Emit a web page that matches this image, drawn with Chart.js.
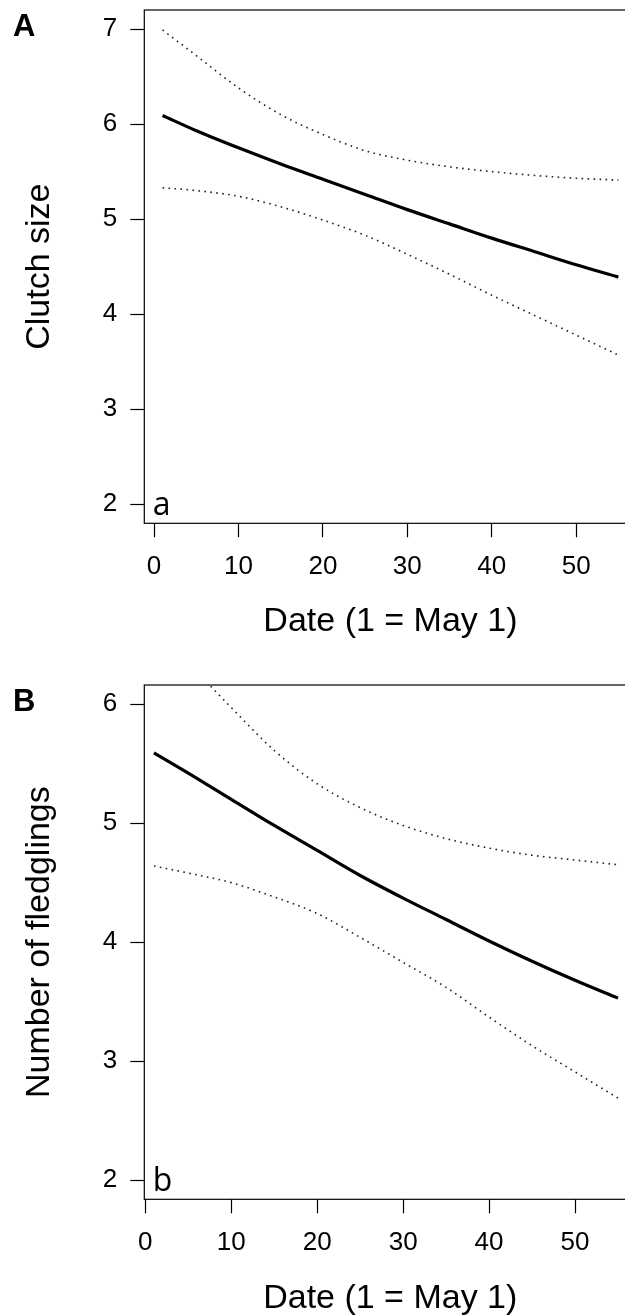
<!DOCTYPE html>
<html>
<head>
<meta charset="utf-8">
<title>Clutch size and number of fledglings by laying date</title>
<script src="https://cdn.jsdelivr.net/npm/chart.js@4.4.1/dist/chart.umd.min.js"></script>
<style>
  html, body { margin: 0; padding: 0; background: #fff; }
  body { width: 625px; height: 1316px; overflow: hidden; position: relative; }
  .panel { position: absolute; left: 0; width: 660px; height: 658px; }
  #panelA { top: 0; }
  #panelB { top: 658px; }
</style>
</head>
<body>
<div class="panel" id="panelA"><canvas id="chartA" width="660" height="658"></canvas></div>
<div class="panel" id="panelB"><canvas id="chartB" width="660" height="658"></canvas></div>
<script>
// ================== Data ==================
const dates = [1, 5, 10, 15, 20, 25, 30, 35, 40, 45, 50, 55];

// panel A - clutch size, fitted line with dotted 95% CI
const clutchFit   = [6.09, 5.93, 5.75, 5.58, 5.42, 5.26, 5.10, 4.95, 4.80, 4.66, 4.52, 4.39];
const clutchUpper = [6.99, 6.72, 6.38, 6.10, 5.89, 5.72, 5.62, 5.55, 5.50, 5.46, 5.43, 5.41];
const clutchLower = [5.33, 5.30, 5.24, 5.13, 4.99, 4.83, 4.63, 4.42, 4.20, 3.99, 3.78, 3.57];

// panel B - number of fledglings (upper CI enters from above the box)
const fledgeFit        = [5.59, 5.42, 5.20, 4.98, 4.77, 4.56, 4.37, 4.19, 4.01, 3.84, 3.68, 3.53];
const fledgeUpperDates = [7.6, 10, 15, 20, 25, 30, 35, 40, 45, 50, 55];
const fledgeUpper      = [6.15, 5.97, 5.61, 5.33, 5.13, 4.98, 4.87, 4.79, 4.73, 4.69, 4.65];
const fledgeLower      = [4.64, 4.58, 4.50, 4.38, 4.24, 4.04, 3.83, 3.62, 3.37, 3.13, 2.91, 2.69];

// tick labels
const dateTicks   = [0, 10, 20, 30, 40, 50];
const clutchTicks = [2, 3, 4, 5, 6, 7];
const fledgeTicks = [2, 3, 4, 5, 6];

// ================== Helpers ==================
Chart.defaults.font.family = '"Liberation Sans", Arial, Helvetica, sans-serif';
Chart.defaults.color = '#000';

const toPoints = (xs, ys) => xs.map((x, i) => ({ x: x, y: ys[i] }));

const tickGrid = {
  drawOnChartArea: false,
  drawTicks: true,
  tickLength: 14,
  tickColor: '#000',
  tickWidth: 1.2
};

// keep the plot box where the figure has it (no label overflow padding)
function noEdgePadding(s) {
  s.paddingTop = 0;
  s.paddingBottom = 0;
  s.paddingLeft = 0;
  s.paddingRight = 0;
}

// box round the plot region, panel letter and corner tag
const panelFrame = {
  id: 'panelFrame',
  afterDatasetsDraw(chart, args, opts) {
    const { ctx, chartArea: a } = chart;
    ctx.save();
    ctx.strokeStyle = '#000';
    ctx.lineWidth = 1.2;
    ctx.strokeRect(a.left, a.top, a.right - a.left, a.bottom - a.top);
    ctx.fillStyle = '#000';
    ctx.textBaseline = 'alphabetic';
    ctx.font = 'bold 31px "Liberation Sans", Arial, sans-serif';
    ctx.fillText(opts.letter, 13, a.top + 26);
    ctx.font = '32px "Open Sans", sans-serif';
    ctx.fillText(opts.tag, a.left + 8.5, a.bottom - 8);
    ctx.restore();
  }
};

function ciLine(points) {
  return {
    data: points,
    borderColor: '#222',
    borderWidth: 1.6,
    borderDash: [1.6, 4.4],
    pointRadius: 0,
    fill: false,
    cubicInterpolationMode: 'monotone'
  };
}

function fitLine(points) {
  return {
    data: points,
    borderColor: '#000',
    borderWidth: 3.2,
    pointRadius: 0,
    fill: false,
    cubicInterpolationMode: 'monotone'
  };
}

function makePanel(canvasId, p) {
  return new Chart(document.getElementById(canvasId), {
    type: 'line',
    data: { datasets: p.datasets },
    plugins: [panelFrame],
    options: {
      responsive: false,
      animation: false,
      layout: { padding: { top: p.top, right: p.right, bottom: 0, left: 0 } },
      plugins: {
        legend: { display: false },
        tooltip: { enabled: false },
        panelFrame: { letter: p.letter, tag: p.tag }
      },
      scales: {
        x: {
          type: 'linear',
          min: p.xMin,
          max: p.xMax,
          afterBuildTicks: s => { s.ticks = dateTicks.map(v => ({ value: v })); },
          afterFit: s => { s.height = p.xHeight; noEdgePadding(s); },
          grid: tickGrid,
          border: { display: false },
          ticks: { font: { size: 26 }, color: '#000', padding: 14, maxRotation: 0, autoSkip: false },
          title: {
            display: true,
            text: 'Date (1 = May 1)',
            color: '#000',
            font: { size: 34, lineHeight: 1 },
            padding: { top: 0, bottom: p.xTitlePad }
          }
        },
        y: {
          type: 'linear',
          min: p.yMin,
          max: p.yMax,
          afterBuildTicks: s => { s.ticks = p.yTicks.map(v => ({ value: v })); },
          afterFit: s => { s.width = 144.3; noEdgePadding(s); },
          grid: tickGrid,
          border: { display: false },
          ticks: { font: { size: 26 }, color: '#000', padding: 13 },
          title: {
            display: true,
            text: p.yTitle,
            color: '#000',
            font: { size: 34, lineHeight: 1 },
            padding: { top: 23, bottom: 0 }
          }
        }
      }
    }
  });
}

// ================== Panels ==================
makePanel('chartA', {
  letter: 'A', tag: 'a',
  top: 10, right: 23.4, xHeight: 134.7, xTitlePad: 19.5,
  xMin: -1.16, xMax: 57.16,
  yMin: 1.8, yMax: 7.2, yTicks: clutchTicks,
  yTitle: 'Clutch size',
  datasets: [
    ciLine(toPoints(dates, clutchUpper)),
    ciLine(toPoints(dates, clutchLower)),
    fitLine(toPoints(dates, clutchFit))
  ]
});

makePanel('chartB', {
  letter: 'B', tag: 'b',
  top: 27, right: 23.8, xHeight: 116.7, xTitlePad: 0,
  xMin: -0.12, xMax: 57.12,
  yMin: 1.84, yMax: 6.16, yTicks: fledgeTicks,
  yTitle: 'Number of fledglings',
  datasets: [
    ciLine(toPoints(fledgeUpperDates, fledgeUpper)),
    ciLine(toPoints(dates, fledgeLower)),
    fitLine(toPoints(dates, fledgeFit))
  ]
});
</script>
</body>
</html>
